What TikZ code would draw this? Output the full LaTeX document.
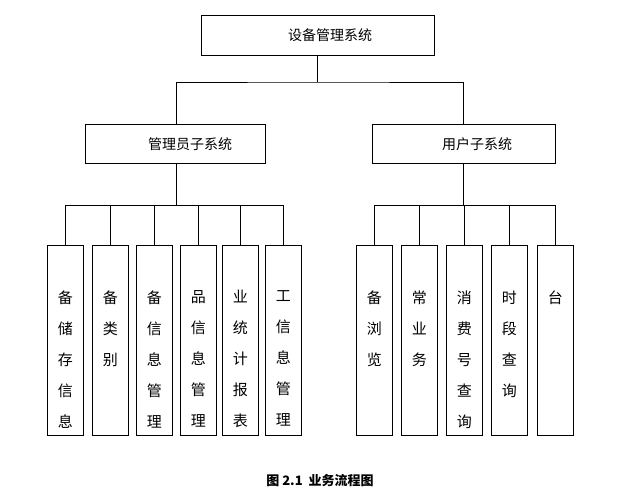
\documentclass[tikz,border=0pt]{standalone}
\usepackage{fontspec}
\setmainfont{Noto Sans CJK SC}
\usetikzlibrary{positioning,calc}
\begin{document}
\begin{tikzpicture}
[x=1pt,y=-1pt,
box/.style={draw,line width=.8pt,anchor=north west,inner sep=0pt},
edge/.style={line width=.8pt},
vtext/.style={anchor=north,align=center,font=\fontsize{15}{31}\selectfont}]
%%%%%%%%%%
\useasboundingbox (0,0) rectangle (640,503);

\node[box,minimum width=233,minimum height=40] (sys) at (201,15) {};
\node[font=\fontsize{14}{16}\selectfont] at (330,35) {设备管理系统};
\node[box,minimum width=180,minimum height=39] (admin) at (85,124) {};
\node[font=\fontsize{14}{16}\selectfont] at (190,144) {管理员子系统};
\node[box,minimum width=183,minimum height=39] (user) at (372,124) {};
\node[font=\fontsize{14}{16}\selectfont] at (477,144) {用户子系统};

\draw[edge] (317,55) -- (317,82);
\draw[edge] (176,124) |- (317,82) -| (463,124);

% admin side
\draw[edge] (176,163) -- (176,205);
\foreach \x/\txt [count=\i] in {47/备\\储\\存\\信\\息, 92/备\\类\\别, 136/备\\信\\息\\管\\理,
    180/品\\信\\息\\管\\理, 222/业\\统\\计\\报\\表, 265/工\\信\\息\\管\\理} {
  \node[box,minimum width=36,minimum height=190] (a\i) at (\x,245) {};
  \node[vtext] at ($(a\i.north)+(0,42)$) {\txt};
  \draw[edge] (a\i.north) -- ++(0,-40);
}
\draw[edge] (a1.north) ++(0,-40) -- ($(a6.north)+(0,-40)$);

% user side
\draw[edge] (463,163) -- (463,205);
\foreach \x/\txt [count=\i] in {356/备\\浏\\览, 401/常\\业\\务, 446/消\\费\\号\\查\\询,
    491/时\\段\\查\\询, 537/台} {
  \node[box,minimum width=36,minimum height=190] (u\i) at (\x,245) {};
  \node[vtext] at ($(u\i.north)+(0,42)$) {\txt};
  \draw[edge] (u\i.north) -- ++(0,-40);
}
\draw[edge] (u1.north) ++(0,-40) -- ($(u5.north)+(0,-40)$);

\node[font=\bfseries\fontsize{13}{15}\selectfont] (cap) at (320,481) {图 2.1\ \ 业务流程图};
\end{tikzpicture}
\end{document}
